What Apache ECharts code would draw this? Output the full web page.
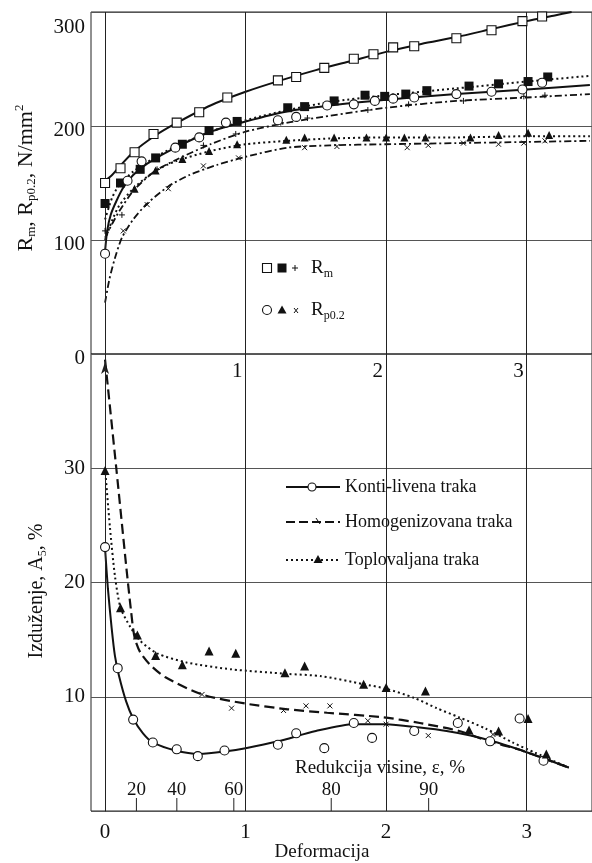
<!DOCTYPE html>
<html>
<head>
<meta charset="utf-8">
<script src="https://cdn.jsdelivr.net/npm/echarts@6/dist/echarts.min.js"></script>
<style>
  html, body { margin: 0; padding: 0; background: #fff; }
  #chart { width: 592px; height: 863px; }
</style>
</head>
<body>
<div id="chart"></div>
<script>
const FONT = "'Liberation Serif', 'Times New Roman', serif";

// Axis ticks
const deformTicks = [0, 1, 2, 3];
const deformTopLabels = [1, 2, 3];
const reductionTicks = [20, 40, 60, 80, 90];   // height reduction, %

// Strength vs deformation (N/mm2): measured points and fitted curves
const rmKontiPts = [[0,150],[0.11,163],[0.21,177],[0.345,193],[0.51,203],[0.67,212],[0.87,225],[1.23,240],[1.36,243],[1.56,251],[1.77,259],[1.91,263],[2.05,269],[2.2,270],[2.5,277],[2.75,284],[2.97,292],[3.11,296]];
const rmKontiCurve = [[0,152],[0.05,157],[0.1,164],[0.2,177],[0.35,191],[0.5,202],[0.75,218],[1,230],[1.25,240],[1.5,249],[1.75,257],[2,265],[2.25,272],[2.5,278],[2.75,285],[3,292],[3.2,297],[3.32,300]];

const rmToploPts = [[0,132],[0.11,150],[0.25,162],[0.36,172],[0.55,184],[0.74,196],[0.94,204],[1.3,216],[1.42,217],[1.63,222],[1.85,227],[1.99,226],[2.14,228],[2.29,231],[2.59,235],[2.8,237],[3.01,239],[3.15,243]];
const rmToploCurve = [[0,118],[0.05,137],[0.1,148],[0.2,160],[0.35,172],[0.5,182],[0.75,195],[1,205],[1.3,214],[1.6,221],[2,227],[2.5,233],[3,239],[3.45,244]];

const rmHomogPts = [[0,108],[0.12,122],[0.37,162],[0.7,183],[0.93,193],[1.25,203],[1.44,207],[1.87,214],[2.16,219],[2.55,222],[2.98,226],[3.13,227]];
const rmHomogCurve = [[0,102],[0.05,114],[0.1,125],[0.2,143],[0.35,160],[0.5,170],[0.75,184],[1,195],[1.3,203],[1.6,209],[2,216],[2.5,222],[3,225],[3.45,228]];

const rpKontiPts = [[0,88],[0.16,152],[0.26,169],[0.5,181],[0.67,190],[0.86,203],[1.23,205],[1.36,208],[1.58,218],[1.77,219],[1.92,222],[2.05,224],[2.2,225],[2.5,228],[2.75,230],[2.97,232],[3.11,238]];
const rpKontiCurve = [[0,90],[0.015,108],[0.04,122],[0.08,134],[0.13,146],[0.2,157],[0.3,167],[0.5,181],[0.75,195],[1,204],[1.3,213],[1.6,218],[2,223],[2.5,228],[3,232],[3.45,236]];

const rpToploPts = [[0.21,145],[0.36,161],[0.55,171],[0.74,178],[0.94,184],[1.29,188],[1.42,190],[1.63,190],[1.86,190],[2.0,190],[2.13,190],[2.28,190],[2.6,190],[2.8,192],[3.01,194],[3.16,192]];
const rpToploCurve = [[0,100],[0.05,117],[0.1,130],[0.2,145],[0.35,160],[0.5,169],[0.75,178],[1,184],[1.3,187],[1.6,189],[2,190],[2.5,190],[3,191],[3.45,191]];

const rpHomogPts = [[0.13,108],[0.3,131],[0.45,145],[0.7,165],[0.95,172],[1.42,181],[1.65,182],[2.15,181],[2.3,183],[2.55,185],[2.8,184],[2.98,185],[3.13,187]];
const rpHomogCurve = [[0,45],[0.03,65],[0.07,84],[0.12,102],[0.2,118],[0.3,132],[0.45,147],[0.6,157],[0.8,166],[1,173],[1.3,181],[1.6,183],[2,184],[2.5,185],[3,186],[3.45,187]];

// Elongation A5 (%) vs deformation
const kontiA5Pts = [[0,23.1],[0.09,12.5],[0.2,8.0],[0.34,6.0],[0.51,5.4],[0.66,4.8],[0.85,5.3],[1.23,5.8],[1.36,6.8],[1.56,5.5],[1.77,7.7],[1.9,6.4],[2.2,7.0],[2.51,7.7],[2.74,6.1],[2.95,8.1],[3.12,4.4]];
const kontiA5Curve = [[0,23],[0.02,19.5],[0.047,16],[0.07,13.6],[0.1,11.8],[0.15,9.6],[0.2,8.1],[0.27,6.8],[0.34,6.0],[0.5,5.3],[0.67,5.0],[0.85,5.2],[1,5.5],[1.23,6.1],[1.5,7.0],[1.77,7.6],[2,7.6],[2.24,7.3],[2.43,7.0],[2.6,6.6],[2.76,6.1],[2.94,5.4],[3.1,4.7],[3.3,3.8]];

const homogA5Pts = [[0.69,10.2],[0.9,9.0],[1.27,8.8],[1.43,9.2],[1.6,9.2],[1.87,7.9],[2.0,7.6],[2.3,6.6],[2.76,6.7]];
const homogA5Curve = [[0,39.5],[0.08,30],[0.15,21.5],[0.185,17.5],[0.21,15.2],[0.25,13.9],[0.32,12.8],[0.43,11.7],[0.69,10.2],[1,9.4],[1.3,8.9],[1.58,8.6],[1.98,8.2],[2.24,7.7],[2.52,7.0],[2.73,6.1],[2.94,5.4],[3.1,4.7],[3.3,3.8]];

const toploA5Pts = [[0,29.8],[0.11,17.8],[0.23,15.4],[0.36,13.6],[0.55,12.8],[0.74,14.0],[0.93,13.8],[1.28,12.1],[1.42,12.7],[1.84,11.1],[2.0,10.8],[2.28,10.5],[2.59,7.1],[2.8,7.0],[3.01,8.1],[3.14,5.0]];
const toploA5Curve = [[0,30],[0.035,24.8],[0.07,20.6],[0.11,17.8],[0.18,16.1],[0.25,14.9],[0.37,13.8],[0.58,13.0],[0.9,12.4],[1.3,12.0],[1.54,11.8],[1.84,11.1],[2,10.7],[2.2,9.9],[2.36,9.0],[2.52,8.2],[2.71,7.2],[2.9,6.0],[3.06,5.1],[3.3,3.8]];

const seriesNames = ['Konti-livena traka', 'Homogenizovana traka', 'Toplovaljana traka'];

// ---- helpers ----
const PLUS = 'path://M5,0L5,10M0,5L10,5';
const CROSS = 'path://M0,0L10,10M10,0L0,10';
const INK = '#111';

function curve(data, idx, dash, width) {
  return {
    type: 'line', xAxisIndex: idx, yAxisIndex: idx, data,
    symbol: 'none', showSymbol: false, smooth: 0.25,
    lineStyle: { color: INK, width, type: dash, cap: 'butt' },
    silent: true, z: 3
  };
}
function points(data, idx, symbol, size, fill, bw) {
  return {
    type: 'scatter', xAxisIndex: idx, yAxisIndex: idx, data,
    symbol, symbolSize: size,
    itemStyle: { color: fill, borderColor: INK, borderWidth: bw, opacity: 1 },
    silent: true, z: 5
  };
}
function gridLines() {
  return {
    silent: true, symbol: 'none', label: { show: false },
    lineStyle: { color: '#222', width: 1, type: 'solid' },
    data: deformTicks.map(v => ({ xAxis: v }))
  };
}

const DASHDOT = [7, 3, 2, 3];
const DOT = [2, 3];
const DASH = [10, 5];

const topCurves = [
  curve(rmKontiCurve, 0, 'solid', 2),
  curve(rmToploCurve, 0, DOT, 2),
  curve(rmHomogCurve, 0, DASHDOT, 1.8),
  curve(rpKontiCurve, 0, 'solid', 2),
  curve(rpToploCurve, 0, DOT, 2),
  curve(rpHomogCurve, 0, DASHDOT, 1.8)
];
topCurves[0].markLine = gridLines();

const bottomCurves = [
  curve(kontiA5Curve, 1, 'solid', 2),
  curve(homogA5Curve, 1, DASH, 2.2),
  curve(toploA5Curve, 1, DOT, 2)
];
bottomCurves[0].markLine = gridLines();

const series = [
  ...topCurves,
  points(rmKontiPts, 0, 'rect', 9, '#fff', 1.1),
  points(rmToploPts, 0, 'rect', 9, INK, 0),
  points(rmHomogPts, 0, PLUS, 6, 'none', 1),
  points(rpKontiPts, 0, 'circle', 9, '#fff', 1.1),
  points(rpToploPts, 0, 'triangle', 8, INK, 0),
  points(rpHomogPts, 0, CROSS, 5, 'none', 1),
  ...bottomCurves,
  points(kontiA5Pts, 1, 'circle', 9, '#fff', 1.1),
  points(homogA5Pts, 1, CROSS, 5, 'none', 1),
  points(toploA5Pts, 1, 'triangle', 9, INK, 0),
  {
    // secondary scale: height reduction ε (%), placed at deformation -ln(1-ε)
    type: 'custom', xAxisIndex: 1, yAxisIndex: 1, silent: true, z: 6,
    data: reductionTicks.map(e => [-Math.log(1 - e / 100), 0, e]),
    renderItem(params, api) {
      const p = api.coord([api.value(0), 0]);
      return {
        type: 'group',
        children: [
          { type: 'line', shape: { x1: p[0], y1: p[1], x2: p[0], y2: p[1] - 13 },
            style: { stroke: '#222', lineWidth: 1 } },
          { type: 'text', x: p[0], y: p[1] - 11,
            style: { text: String(api.value(2)), align: 'center', verticalAlign: 'bottom',
                     fontSize: 19, fontFamily: FONT, fill: INK } }
        ]
      };
    }
  }
];

const axisFont = { fontSize: 21, fontFamily: FONT, color: INK };
const sub = { fontSize: 13, fontFamily: FONT, padding: [12, 0, 0, 0] };
const sup = { fontSize: 13, fontFamily: FONT, padding: [0, 0, 12, 0] };

const option = {
  animation: false,
  backgroundColor: '#fff',
  grid: [
    { left: 91, top: 12, width: 503, height: 342, show: true, borderColor: '#222', borderWidth: 1, backgroundColor: 'transparent' },
    { left: 91, top: 354, width: 503, height: 457, show: true, borderColor: '#222', borderWidth: 1, backgroundColor: 'transparent' }
  ],
  xAxis: [
    {
      gridIndex: 0, type: 'value', min: -0.1, max: 3.465,
      axisLine: { show: false }, axisTick: { show: false }, splitLine: { show: false },
      axisLabel: Object.assign({ customValues: deformTopLabels, align: 'right', margin: 7, padding: [0, 3, 0, 0] }, axisFont)
    },
    {
      gridIndex: 1, type: 'value', min: -0.1, max: 3.465,
      axisLine: { show: false }, axisTick: { show: false }, splitLine: { show: false },
      axisLabel: Object.assign({ customValues: deformTicks, margin: 11 }, axisFont)
    }
  ],
  yAxis: [
    {
      gridIndex: 0, type: 'value', min: 0, max: 300, interval: 100,
      axisLine: { show: false }, axisTick: { show: false },
      splitLine: { show: true, lineStyle: { color: '#555', width: 1 } },
      axisLabel: Object.assign({
        margin: 6, padding: [8, 0, 0, 0],
        formatter: v => v === 300 ? '{lo|300}' : String(v),
        rich: { lo: { fontSize: 21, fontFamily: FONT, color: INK, padding: [22, 0, 0, 0] } }
      }, axisFont)
    },
    {
      gridIndex: 1, type: 'value', min: 0, max: 40, interval: 10,
      axisLine: { show: true, symbol: ['none', 'arrow'], symbolSize: [6, 12], symbolOffset: [0, -8], lineStyle: { color: '#222', width: 1 } },
      axisTick: { show: false },
      splitLine: { show: true, lineStyle: { color: '#555', width: 1 } },
      axisLabel: Object.assign({
        margin: 6, padding: [4, 0, 0, 0],
        formatter: v => (v === 0 || v === 40) ? '' : String(v)
      }, axisFont)
    }
  ],
  graphic: [
    // axis titles
    { type: 'text', x: 26, y: 178, rotation: Math.PI / 2, silent: true,
      style: { text: 'R{s|m}, R{s|p0.2}, N/mm{p|2}', fontSize: 22, fontFamily: FONT, fill: INK,
               align: 'center', verticalAlign: 'middle', rich: { s: sub, p: sup } } },
    { type: 'text', x: 37, y: 591, rotation: Math.PI / 2, silent: true,
      style: { text: 'Izduženje, A{s|5}, %', fontSize: 20, fontFamily: FONT, fill: INK,
               align: 'center', verticalAlign: 'middle', rich: { s: { fontSize: 12, fontFamily: FONT, padding: [11, 0, 0, 0] } } } },
    { type: 'text', x: 322, y: 852, silent: true,
      style: { text: 'Deformacija', fontSize: 19, fontFamily: FONT, fill: INK, align: 'center', verticalAlign: 'middle' } },
    { type: 'text', x: 380, y: 768, silent: true,
      style: { text: 'Redukcija visine, ε, %', fontSize: 19, fontFamily: FONT, fill: INK, align: 'center', verticalAlign: 'middle' } },

    // strength legend
    { type: 'rect', shape: { x: 262.5, y: 263.5, width: 9, height: 9 }, style: { fill: '#fff', stroke: INK, lineWidth: 1.1 } },
    { type: 'rect', shape: { x: 277.5, y: 263.5, width: 9, height: 9 }, style: { fill: INK } },
    { type: 'polyline', shape: { points: [[295, 265], [295, 271]] }, style: { stroke: INK, lineWidth: 1 } },
    { type: 'polyline', shape: { points: [[292, 268], [298, 268]] }, style: { stroke: INK, lineWidth: 1 } },
    { type: 'text', x: 311, y: 268, silent: true,
      style: { text: 'R{s|m}', fontSize: 19, fontFamily: FONT, fill: INK, verticalAlign: 'middle', rich: { s: { fontSize: 12, fontFamily: FONT, padding: [11, 0, 0, 0] } } } },
    { type: 'circle', shape: { cx: 267, cy: 310, r: 4.5 }, style: { fill: '#fff', stroke: INK, lineWidth: 1.1 } },
    { type: 'polygon', shape: { points: [[282, 305.5], [286.5, 313.5], [277.5, 313.5]] }, style: { fill: INK } },
    { type: 'polyline', shape: { points: [[294, 308], [298, 313]] }, style: { stroke: INK, lineWidth: 1 } },
    { type: 'polyline', shape: { points: [[298, 308], [294, 313]] }, style: { stroke: INK, lineWidth: 1 } },
    { type: 'text', x: 311, y: 310, silent: true,
      style: { text: 'R{s|p0.2}', fontSize: 19, fontFamily: FONT, fill: INK, verticalAlign: 'middle', rich: { s: { fontSize: 12, fontFamily: FONT, padding: [11, 0, 0, 0] } } } },

    // elongation legend
    { type: 'line', shape: { x1: 286, y1: 487, x2: 340, y2: 487 }, style: { stroke: INK, lineWidth: 2 } },
    { type: 'circle', shape: { cx: 312, cy: 487, r: 4 }, style: { fill: '#fff', stroke: INK, lineWidth: 1.1 } },
    { type: 'text', x: 345, y: 487, silent: true,
      style: { text: seriesNames[0], fontSize: 18, fontFamily: FONT, fill: INK, verticalAlign: 'middle' } },
    { type: 'line', shape: { x1: 286, y1: 522, x2: 340, y2: 522 }, style: { stroke: INK, lineWidth: 2.2, lineDash: [9, 4] } },
    { type: 'polyline', shape: { points: [[316, 518], [320, 524]] }, style: { stroke: INK, lineWidth: 1 } },
    { type: 'text', x: 345, y: 522, silent: true,
      style: { text: seriesNames[1], fontSize: 18, fontFamily: FONT, fill: INK, verticalAlign: 'middle' } },
    { type: 'line', shape: { x1: 286, y1: 560, x2: 340, y2: 560 }, style: { stroke: INK, lineWidth: 2, lineDash: [2, 3] } },
    { type: 'polygon', shape: { points: [[318, 555], [322.5, 563], [313.5, 563]] }, style: { fill: INK } },
    { type: 'text', x: 345, y: 560, silent: true,
      style: { text: seriesNames[2], fontSize: 18, fontFamily: FONT, fill: INK, verticalAlign: 'middle' } }
  ],
  series
};

const chart = echarts.init(document.getElementById('chart'), null, { renderer: 'canvas' });
chart.setOption(option);
</script>
</body>
</html>
